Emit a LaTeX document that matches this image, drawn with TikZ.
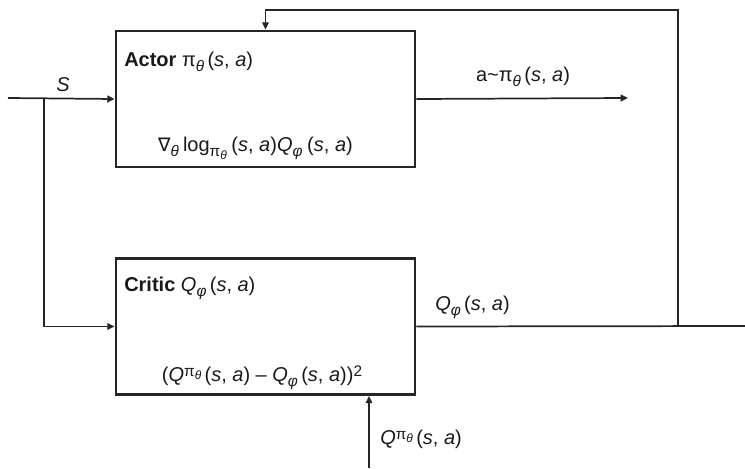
\documentclass[tikz,border=0pt]{standalone}
\usepackage{fontspec}
\setmainfont{Liberation Sans}
\newfontfamily\symfont{DejaVu Sans}
\usetikzlibrary{arrows.meta}
\newcommand{\lo}[1]{\raisebox{-0.5ex}{\fontsize{11.5}{12}\selectfont #1}}
\newcommand{\hi}[1]{\raisebox{0.45ex}{\fontsize{11.5}{12}\selectfont #1}}
\newcommand{\vlo}[1]{\raisebox{-0.35ex}{\fontsize{9}{10}\selectfont #1}}
\newcommand{\ita}[1]{\textit{#1}}
\newcommand{\pith}{π\lo{\ita{θ}}}
\newcommand{\Qphi}{\ita{Q}\lo{\ita{φ}}}
\newcommand{\Qpi}{\ita{Q}\hi{π\vlo{\ita{θ}}}}
\newcommand{\sa}{\hspace{2.5pt}(\ita{s}, \ita{a})}
\begin{document}
\begin{tikzpicture}[x=0.75pt,y=-0.75pt, font=\fontsize{15}{17}\selectfont,
  box/.style={draw=black!85, line width=2.1pt, minimum width=224.25pt, minimum height=102pt, inner sep=0pt},
  conn/.style={draw=black!85, line width=1.3pt},
  arr/.style={conn, -{Triangle[length=5.5pt,width=5pt]}},
  lbl/.style={inner sep=0pt, text=black!90}]
\useasboundingbox (0,0) rectangle (745,468);
\node[box] (actor) at (265.5,99) {};
\node[box] (critic) at (265.5,326.5) {};
% texts inside boxes
\node[lbl, anchor=base west] (atitle) at (124,66) {\textbf{Actor} \pith\sa};
\node[lbl, anchor=base] (agrad) at (255.5,151) {{\symfont\fontsize{14}{15}\selectfont ∇}\lo{\ita{θ}}\hspace{3pt}log\raisebox{-0.55ex}{\fontsize{11.5}{12}\selectfont π\vlo{\ita{θ}}}\hspace{1pt}\sa\Qphi\hspace{1pt}\sa};
\node[lbl, anchor=base west] (ctitle) at (124,291) {\textbf{Critic} \Qphi\sa};
\node[lbl, anchor=base] (closs) at (262,381) {(\Qpi\sa\ – \Qphi\sa)\hi{2}};
% input state
\coordinate (sin) at (8,98);
\coordinate (split) at (44,98);
\draw[arr] (sin) -- (actor.west);
\draw[arr] (split) |- (critic.west);
\node[lbl, anchor=base] (slabel) at (63,91) {\ita{S}};
% actor output
\coordinate (aout) at (628,98);
\draw[arr] (actor.east) -- (aout);
\node[lbl, anchor=base] (alabel) at (523,81) {a\textasciitilde\pith\sa};
% critic output and feedback
\coordinate (cout) at (745,326);
\coordinate (fb) at (678,326);
\coordinate (fbtop) at (678,10);
\draw[conn] (critic.east) -- (cout);
\draw[arr] (fb) -- (fbtop) -| (actor.north);
\node[lbl, anchor=base west] (qlabel) at (435,310) {\Qphi\sa};
% target Q input
\coordinate (qin) at (369,468);
\draw[arr] (qin) -- (qin |- critic.south);
\node[lbl, anchor=base west] (qtlabel) at (380,444) {\Qpi\sa};
\end{tikzpicture}
\end{document}
